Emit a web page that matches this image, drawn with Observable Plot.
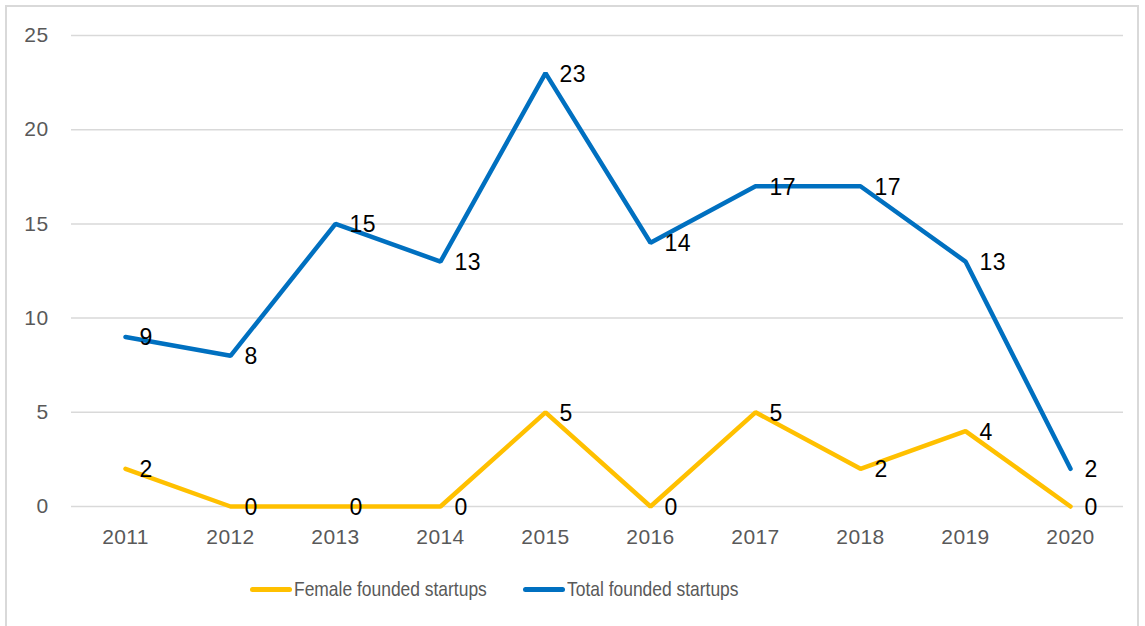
<!DOCTYPE html>
<html>
<head>
<meta charset="utf-8">
<script src="https://cdn.jsdelivr.net/npm/d3@7"></script>
<script src="https://cdn.jsdelivr.net/npm/@observablehq/plot@0.6"></script>
<style>
  body { margin: 0; background: #fff; font-family: "Liberation Sans", Arial, sans-serif; }
  #wrap { position: relative; width: 1145px; height: 626px; overflow: hidden; }
  #frame { position: absolute; left: 5px; top: 5px; width: 1134px; height: 640px; border: 2px solid #d9d9d9; box-sizing: border-box; }
  #chart { position: absolute; left: 0; top: 0; }
  #legend { position: absolute; left: 0; top: 576px; width: 1145px; height: 26px; font-size: 21px; color: #595959; }
  .item { position: absolute; top: 0; height: 26px; }
  .sw { position: absolute; left: 0; top: 11px; width: 42px; height: 5px; border-radius: 3px; }
  .tx { position: absolute; left: 44px; top: 0; line-height: 26px; white-space: nowrap; transform: scaleX(0.83); transform-origin: 0 50%; }
  #chart svg text { letter-spacing: 0.4px; }
</style>
</head>
<body>
<div id="wrap">
  <div id="frame"></div>
  <div id="chart"></div>
  <div id="legend"></div>
</div>
<script>
const years = ["2011","2012","2013","2014","2015","2016","2017","2018","2019","2020"];
const femaleFounded = [2, 0, 0, 0, 5, 0, 5, 2, 4, 0];
const totalFounded = [9, 8, 15, 13, 23, 14, 17, 17, 13, 2];
const yTicks = [0, 5, 10, 15, 20, 25];
const seriesNames = ["Female founded startups", "Total founded startups"];
const seriesColors = ["#FFC000", "#0070C0"];

const rows = [];
years.forEach((y, i) => {
  rows.push({year: y, value: femaleFounded[i], series: seriesNames[0]});
});
years.forEach((y, i) => {
  rows.push({year: y, value: totalFounded[i], series: seriesNames[1]});
});

const chart = Plot.plot({
  width: 1145,
  height: 560,
  marginLeft: 71,
  marginRight: 22,
  marginTop: 35,
  marginBottom: 54,
  style: { fontFamily: "'Liberation Sans', Arial, sans-serif", background: "transparent" },
  x: { type: "point", domain: years, padding: 0.5, label: null, tickSize: 0, tickPadding: 23 },
  y: { domain: [0, 25], ticks: yTicks, label: null, tickSize: 0, tickPadding: 23 },
  color: { domain: seriesNames, range: seriesColors },
  marks: [
    Plot.gridY(yTicks, { stroke: "#d9d9d9", strokeOpacity: 1, strokeWidth: 1.5 }),
    Plot.axisY(yTicks, { tickSize: 0, tickPadding: 23, fontSize: 21, fill: "#595959", label: null }),
    Plot.axisX({ tickSize: 0, tickPadding: 23, fontSize: 21, fill: "#595959", label: null }),
    Plot.line(rows, { x: "year", y: "value", z: "series", stroke: "series", strokeWidth: 4.5, strokeLinecap: "round", strokeLinejoin: "miter" }),
    Plot.text(rows, { x: "year", y: "value", text: d => String(d.value), textAnchor: "start", dx: 14, dy: 1, fontSize: 23, fill: "#000" })
  ]
});
document.getElementById("chart").appendChild(chart);

const legend = document.getElementById("legend");
const legendX = [250, 523];
seriesNames.forEach((name, i) => {
  const it = document.createElement("div");
  it.className = "item";
  it.style.left = legendX[i] + "px";
  const sw = document.createElement("span");
  sw.className = "sw";
  sw.style.background = seriesColors[i];
  const tx = document.createElement("span");
  tx.className = "tx";
  tx.textContent = name;
  it.appendChild(sw);
  it.appendChild(tx);
  legend.appendChild(it);
});
</script>
</body>
</html>
